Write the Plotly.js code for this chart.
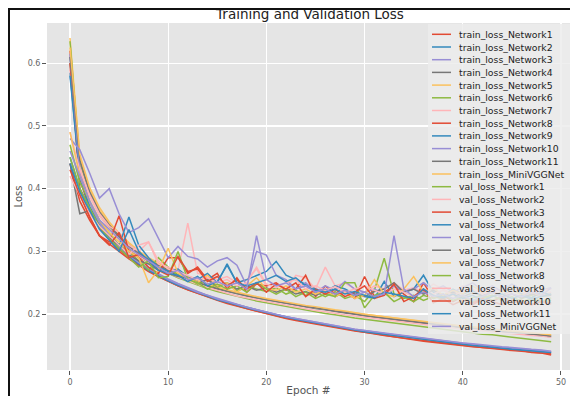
<!DOCTYPE html>
<html>
<head>
<meta charset="utf-8">
<script src="https://cdn.plot.ly/plotly-3.0.1.min.js"></script>
<style>
  html, body { margin: 0; padding: 0; background: #fff; }
  #wrap { position: relative; width: 570px; height: 396px; overflow: hidden; }
  #chart { position: absolute; left: 0; top: 0; width: 570px; height: 396px; }
  #frame { position: absolute; left: 8px; top: 8px; width: 580px; height: 400px;
           border-top: 2px solid #111; border-left: 2px solid #111; pointer-events: none; }
</style>
</head>
<body>
<div id="wrap"><div id="chart"></div><div id="frame"></div></div>
<script>
const epochs = [0,1,2,3,4,5,6,7,8,9,10,11,12,13,14,15,16,17,18,19,20,21,22,23,24,25,26,27,28,29,30,31,32,33,34,35,36,37,38,39,40,41,42,43,44,45,46,47,48,49];

const seriesNames = [
  "train_loss_Network1","train_loss_Network2","train_loss_Network3","train_loss_Network4",
  "train_loss_Network5","train_loss_Network6","train_loss_Network7","train_loss_Network8",
  "train_loss_Network9","train_loss_Network10","train_loss_Network11","train_loss_MiniVGGNet",
  "val_loss_Network1","val_loss_Network2","val_loss_Network3","val_loss_Network4",
  "val_loss_Network5","val_loss_Network6","val_loss_Network7","val_loss_Network8",
  "val_loss_Network9","val_loss_Network10","val_loss_Network11","val_loss_MiniVGGNet"
];

const palette = ["#E24A33","#348ABD","#988ED5","#777777","#FBC15E","#8EBA42","#FFB5B8"];

const train_N1 = [0.62,0.40,0.355,0.325,0.312,0.30,0.288,0.278,0.268,0.26,0.252,0.245,0.239,0.233,0.228,0.223,0.218,0.214,0.209,0.205,0.201,0.198,0.194,0.191,0.188,0.185,0.182,0.179,0.176,0.174,0.171,0.169,0.166,0.164,0.162,0.160,0.158,0.156,0.154,0.152,0.151,0.149,0.147,0.146,0.144,0.143,0.142,0.139,0.138,0.135];
const train_N2 = [0.585,0.42,0.372,0.342,0.322,0.306,0.292,0.281,0.271,0.262,0.254,0.247,0.241,0.235,0.229,0.224,0.219,0.215,0.210,0.206,0.203,0.199,0.196,0.192,0.189,0.186,0.183,0.181,0.178,0.175,0.173,0.171,0.168,0.166,0.164,0.162,0.160,0.158,0.156,0.154,0.153,0.151,0.149,0.148,0.146,0.145,0.143,0.142,0.140,0.139];
const train_N3 = [0.61,0.43,0.38,0.347,0.326,0.309,0.295,0.283,0.273,0.264,0.256,0.249,0.242,0.236,0.230,0.225,0.220,0.215,0.211,0.207,0.203,0.200,0.196,0.193,0.190,0.187,0.184,0.181,0.179,0.176,0.174,0.171,0.169,0.167,0.165,0.163,0.161,0.159,0.157,0.155,0.154,0.152,0.150,0.148,0.147,0.146,0.144,0.143,0.142,0.140];
const train_N4 = [0.60,0.44,0.392,0.362,0.341,0.323,0.308,0.296,0.286,0.277,0.269,0.262,0.256,0.25,0.245,0.24,0.236,0.232,0.229,0.226,0.223,0.22,0.217,0.214,0.212,0.209,0.207,0.204,0.202,0.2,0.197,0.195,0.193,0.191,0.189,0.187,0.185,0.183,0.182,0.18,0.178,0.177,0.175,0.173,0.172,0.17,0.169,0.167,0.166,0.164];
const train_N5 = [0.64,0.45,0.398,0.366,0.344,0.326,0.311,0.299,0.288,0.279,0.271,0.264,0.258,0.252,0.247,0.242,0.238,0.234,0.23,0.227,0.224,0.221,0.218,0.216,0.213,0.21,0.208,0.206,0.203,0.201,0.199,0.197,0.195,0.193,0.191,0.189,0.187,0.185,0.184,0.182,0.18,0.179,0.177,0.175,0.174,0.172,0.171,0.169,0.168,0.166];
const train_N6 = [0.635,0.44,0.39,0.358,0.337,0.319,0.304,0.292,0.282,0.273,0.265,0.258,0.252,0.246,0.241,0.236,0.232,0.228,0.224,0.221,0.218,0.215,0.212,0.209,0.206,0.204,0.201,0.199,0.196,0.194,0.192,0.19,0.187,0.185,0.183,0.181,0.179,0.177,0.176,0.174,0.172,0.17,0.168,0.167,0.165,0.163,0.161,0.159,0.157,0.156];
const train_N7 = [0.59,0.435,0.388,0.357,0.336,0.319,0.305,0.293,0.283,0.274,0.266,0.259,0.253,0.247,0.242,0.238,0.233,0.229,0.226,0.223,0.22,0.217,0.214,0.211,0.209,0.206,0.204,0.201,0.199,0.197,0.195,0.193,0.191,0.189,0.187,0.185,0.183,0.181,0.18,0.178,0.176,0.175,0.173,0.172,0.17,0.169,0.167,0.166,0.165,0.163];
const train_N8 = [0.60,0.415,0.368,0.338,0.318,0.303,0.290,0.279,0.269,0.26,0.252,0.245,0.239,0.233,0.227,0.222,0.217,0.213,0.208,0.204,0.2,0.197,0.193,0.19,0.187,0.184,0.181,0.178,0.176,0.173,0.171,0.168,0.166,0.164,0.161,0.159,0.157,0.155,0.154,0.152,0.15,0.148,0.147,0.145,0.144,0.142,0.141,0.14,0.138,0.137];
const train_N9 = [0.58,0.418,0.37,0.34,0.32,0.305,0.292,0.28,0.27,0.261,0.253,0.246,0.24,0.234,0.229,0.223,0.219,0.214,0.21,0.206,0.202,0.199,0.195,0.192,0.189,0.186,0.183,0.18,0.177,0.175,0.172,0.17,0.168,0.165,0.163,0.161,0.159,0.157,0.156,0.154,0.152,0.15,0.149,0.147,0.146,0.144,0.143,0.141,0.14,0.139];
const train_N10 = [0.615,0.428,0.378,0.345,0.324,0.308,0.294,0.282,0.272,0.263,0.255,0.248,0.241,0.235,0.23,0.224,0.22,0.215,0.211,0.207,0.203,0.2,0.196,0.193,0.19,0.187,0.184,0.182,0.179,0.176,0.174,0.172,0.17,0.167,0.165,0.163,0.161,0.16,0.158,0.156,0.154,0.153,0.151,0.15,0.148,0.147,0.145,0.144,0.143,0.141];
const train_N11 = [0.61,0.445,0.395,0.363,0.342,0.325,0.31,0.298,0.287,0.278,0.27,0.263,0.257,0.251,0.246,0.241,0.237,0.233,0.229,0.226,0.223,0.22,0.217,0.215,0.212,0.21,0.207,0.205,0.203,0.2,0.198,0.196,0.194,0.192,0.19,0.188,0.186,0.184,0.183,0.181,0.179,0.178,0.176,0.175,0.173,0.171,0.17,0.168,0.167,0.165];
const train_MiniVGG = [0.625,0.455,0.402,0.37,0.347,0.329,0.314,0.301,0.29,0.281,0.273,0.266,0.259,0.253,0.248,0.243,0.239,0.235,0.231,0.228,0.225,0.222,0.219,0.217,0.214,0.212,0.209,0.207,0.205,0.202,0.2,0.198,0.196,0.194,0.192,0.19,0.188,0.186,0.185,0.183,0.181,0.18,0.178,0.176,0.175,0.173,0.172,0.17,0.169,0.167];

const val_N1 = [0.47,0.41,0.38,0.35,0.33,0.31,0.30,0.285,0.27,0.29,0.275,0.262,0.258,0.248,0.255,0.243,0.25,0.238,0.245,0.24,0.236,0.242,0.232,0.238,0.23,0.235,0.228,0.236,0.225,0.23,0.22,0.238,0.289,0.232,0.225,0.23,0.222,0.228,0.224,0.232,0.22,0.226,0.23,0.222,0.228,0.218,0.225,0.23,0.22,0.226];
const val_N2 = [0.49,0.43,0.39,0.36,0.34,0.33,0.31,0.30,0.315,0.28,0.275,0.27,0.345,0.265,0.262,0.255,0.26,0.25,0.255,0.272,0.245,0.25,0.24,0.262,0.258,0.24,0.275,0.245,0.25,0.24,0.235,0.245,0.24,0.25,0.238,0.242,0.235,0.248,0.24,0.232,0.245,0.238,0.235,0.242,0.236,0.24,0.232,0.238,0.23,0.235];
const val_N3 = [0.44,0.38,0.35,0.325,0.315,0.357,0.30,0.29,0.275,0.265,0.29,0.29,0.265,0.275,0.255,0.265,0.24,0.258,0.235,0.248,0.245,0.25,0.238,0.24,0.262,0.228,0.245,0.232,0.235,0.225,0.26,0.228,0.235,0.245,0.232,0.22,0.25,0.225,0.23,0.22,0.228,0.215,0.224,0.22,0.228,0.218,0.222,0.215,0.22,0.218];
const val_N4 = [0.45,0.40,0.37,0.34,0.325,0.31,0.355,0.31,0.29,0.275,0.268,0.272,0.26,0.255,0.265,0.25,0.28,0.25,0.255,0.262,0.268,0.284,0.262,0.255,0.248,0.24,0.236,0.245,0.24,0.232,0.228,0.225,0.252,0.228,0.235,0.24,0.262,0.235,0.228,0.24,0.232,0.238,0.228,0.235,0.23,0.238,0.232,0.226,0.235,0.23];
const val_N5 = [0.48,0.462,0.425,0.385,0.40,0.36,0.33,0.338,0.352,0.32,0.29,0.308,0.292,0.288,0.275,0.285,0.29,0.278,0.245,0.30,0.294,0.262,0.255,0.24,0.25,0.235,0.245,0.238,0.252,0.24,0.235,0.24,0.232,0.245,0.236,0.24,0.25,0.238,0.245,0.235,0.242,0.25,0.238,0.245,0.236,0.248,0.24,0.232,0.238,0.242];
const val_N6 = [0.44,0.36,0.365,0.34,0.32,0.31,0.295,0.285,0.28,0.27,0.265,0.26,0.258,0.25,0.255,0.245,0.25,0.24,0.245,0.238,0.242,0.235,0.24,0.232,0.236,0.23,0.238,0.228,0.235,0.232,0.228,0.236,0.24,0.25,0.235,0.24,0.232,0.238,0.23,0.235,0.228,0.234,0.23,0.236,0.228,0.232,0.226,0.232,0.228,0.23];
const val_N7 = [0.49,0.42,0.38,0.35,0.33,0.315,0.30,0.29,0.25,0.27,0.305,0.265,0.258,0.25,0.262,0.245,0.25,0.235,0.245,0.258,0.24,0.238,0.245,0.235,0.24,0.232,0.238,0.228,0.235,0.225,0.23,0.255,0.232,0.228,0.24,0.26,0.235,0.242,0.23,0.238,0.232,0.245,0.235,0.228,0.236,0.24,0.23,0.235,0.228,0.232];
const val_N8 = [0.45,0.40,0.37,0.34,0.32,0.305,0.29,0.275,0.285,0.258,0.26,0.30,0.255,0.25,0.24,0.248,0.24,0.245,0.235,0.25,0.24,0.232,0.24,0.228,0.235,0.225,0.232,0.228,0.25,0.25,0.21,0.23,0.235,0.22,0.228,0.22,0.23,0.225,0.232,0.222,0.228,0.22,0.226,0.23,0.222,0.228,0.22,0.225,0.218,0.222];
const val_N9 = [0.42,0.39,0.36,0.34,0.325,0.31,0.295,0.31,0.315,0.285,0.272,0.268,0.262,0.255,0.258,0.25,0.255,0.245,0.25,0.275,0.248,0.242,0.25,0.255,0.24,0.245,0.238,0.244,0.235,0.24,0.245,0.238,0.232,0.24,0.235,0.228,0.24,0.232,0.238,0.23,0.236,0.24,0.232,0.238,0.23,0.236,0.242,0.234,0.238,0.24];
const val_N10 = [0.43,0.39,0.355,0.325,0.31,0.33,0.29,0.295,0.285,0.27,0.262,0.292,0.268,0.272,0.252,0.26,0.245,0.255,0.24,0.25,0.235,0.248,0.24,0.25,0.228,0.24,0.232,0.24,0.228,0.235,0.245,0.225,0.23,0.248,0.22,0.228,0.24,0.218,0.225,0.215,0.222,0.218,0.225,0.22,0.215,0.222,0.218,0.215,0.22,0.216];
const val_N11 = [0.44,0.395,0.365,0.335,0.318,0.30,0.335,0.30,0.285,0.27,0.265,0.262,0.252,0.26,0.245,0.252,0.278,0.25,0.245,0.25,0.255,0.262,0.252,0.258,0.245,0.238,0.235,0.24,0.232,0.236,0.23,0.226,0.235,0.232,0.228,0.225,0.24,0.23,0.226,0.232,0.225,0.23,0.222,0.228,0.232,0.225,0.23,0.224,0.228,0.232];
const val_MiniVGG = [0.46,0.42,0.38,0.35,0.335,0.32,0.305,0.295,0.285,0.275,0.265,0.27,0.255,0.258,0.248,0.252,0.245,0.25,0.24,0.325,0.255,0.245,0.25,0.24,0.245,0.235,0.24,0.232,0.238,0.23,0.235,0.228,0.232,0.325,0.24,0.228,0.235,0.228,0.232,0.225,0.23,0.222,0.228,0.235,0.226,0.232,0.228,0.236,0.23,0.242];

const seriesValues = [train_N1,train_N2,train_N3,train_N4,train_N5,train_N6,train_N7,train_N8,train_N9,train_N10,train_N11,train_MiniVGG,
  val_N1,val_N2,val_N3,val_N4,val_N5,val_N6,val_N7,val_N8,val_N9,val_N10,val_N11,val_MiniVGG];

const W = 570, H = 396;
const M = {l: 47, r: 0, t: 23, b: 26};
const plotW = W - M.l - M.r, plotH = H - M.t - M.b;
const px2x = p => (p - M.l) / plotW;
const px2y = p => (H - M.b - p) / plotH;

const traces = seriesNames.map((name, i) => ({
  type: 'scatter', mode: 'lines', name: name,
  x: epochs, y: seriesValues[i],
  line: {color: palette[i % palette.length], width: 1.5},
  hoverinfo: 'skip', showlegend: false
}));

// manual legend (matplotlib-like, compact rows)
const shapes = [{
  type: 'rect', xref: 'paper', yref: 'paper', layer: 'above',
  x0: px2x(428), x1: px2x(575), y0: px2y(334), y1: px2y(24),
  fillcolor: 'rgba(236,236,236,0.82)', line: {width: 0}
}];
const annotations = [];
seriesNames.forEach((name, i) => {
  const cy = 34.3 + 12.7 * i;
  shapes.push({type: 'line', xref: 'paper', yref: 'paper', layer: 'above',
    x0: px2x(432), x1: px2x(451), y0: px2y(cy), y1: px2y(cy),
    line: {color: palette[i % palette.length], width: 1.5}});
  annotations.push({xref: 'paper', yref: 'paper', x: px2x(457), y: px2y(cy),
    xanchor: 'left', yanchor: 'middle', showarrow: false, text: name,
    font: {family: 'DejaVu Sans', size: 9.3, color: '#222'}});
});

const layout = {
  width: W, height: H,
  margin: M,
  paper_bgcolor: '#ffffff', plot_bgcolor: '#E5E5E5',
  font: {family: 'DejaVu Sans', color: '#555'},
  title: {text: 'Training and Validation Loss', x: 310 / W, xref: 'container', xanchor: 'center',
          y: 1 - 14 / H, yref: 'container', yanchor: 'middle',
          font: {family: 'DejaVu Sans', size: 13.5, color: '#222'}},
  xaxis: {range: [-2.34, 50.92], tickvals: [0,10,20,30,40,50], ticks: 'outside', ticklen: 4,
          tickcolor: '#555', tickfont: {size: 8, color: '#666'}, gridcolor: '#ffffff', gridwidth: 1.3,
          zeroline: false, showline: false,
          title: {text: 'Epoch #', standoff: 4, font: {size: 10.5, color: '#555'}}},
  yaxis: {range: [0.111, 0.664], tickvals: [0.2,0.3,0.4,0.5,0.6], ticktext: ['0.2','0.3','0.4','0.5','0.6'],
          ticks: 'outside', ticklen: 4,
          tickcolor: '#555', tickfont: {size: 8, color: '#666'}, gridcolor: '#ffffff', gridwidth: 1.3,
          zeroline: false, showline: false,
          title: {text: 'Loss', standoff: 3, font: {size: 10, color: '#555'}}},
  shapes: shapes, annotations: annotations, showlegend: false
};

Plotly.newPlot('chart', traces, layout, {staticPlot: true, displayModeBar: false});
</script>
</body>
</html>
